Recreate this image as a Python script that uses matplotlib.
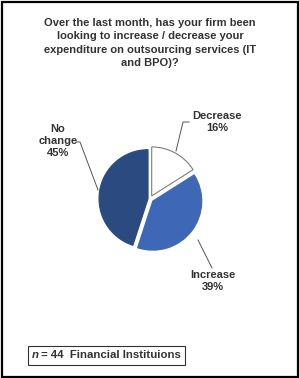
import matplotlib
matplotlib.use("Agg")
import matplotlib.pyplot as plt
from matplotlib.patches import Rectangle

categories = ["Decrease", "Increase", "No change"]
values = [16, 39, 45]
label_texts = ["Decrease\n16%", "Increase\n39%", "No\nchange\n45%"]
title = "Over the last month, has your firm been\nlooking to increase / decrease your\nexpenditure on outsourcing services (IT\nand BPO)?"
footnote = "Financial Instituions"

W, H = 299, 378
fig = plt.figure(figsize=(W / 100, H / 100), dpi=100)
ax = fig.add_axes([0, 0, 1, 1])

font = "Liberation Sans"
tcol = "#333333"
fs = 8.0

colors = ["#ffffff", "#3e67b5", "#2b4a80"]
cx, cy, r = 150, H - 199, 49
wedges, _ = ax.pie(values, startangle=90, counterclock=False, colors=colors,
                   explode=[3.5, 3.5, 2], center=(cx, cy), radius=r,
                   wedgeprops=dict(edgecolor="#7f7f7f", linewidth=0.8),
                   frame=True)
wedges[1].set_edgecolor("#3e67b5")
wedges[2].set_edgecolor("#2b4a80")
ax.set_xlim(0, W)
ax.set_ylim(0, H)
ax.set_aspect("equal")
ax.axis("off")

# outer frame
ax.add_patch(Rectangle((1.5, 1.5), W - 3, H - 3, fill=False, ec="black", lw=1.6))

ax.text(150, H - 43, title, ha="center", va="center", fontsize=fs, fontweight="bold",
        color=tcol, family=font, linespacing=1.45)

# labels
ax.text(217, H - 122, label_texts[0], ha="center", va="center", fontsize=fs,
        fontweight="bold", color=tcol, family=font, linespacing=1.3)
ax.text(213, H - 281, label_texts[1], ha="center", va="center", fontsize=fs,
        fontweight="bold", color=tcol, family=font, linespacing=1.3)
ax.text(58, H - 141, label_texts[2], ha="center", va="center", fontsize=fs,
        fontweight="bold", color=tcol, family=font, linespacing=1.3)

# leader lines
lc = "#555555"
ax.plot([189, 183, 176], [H - 122, H - 122, H - 151], color=lc, lw=0.7)
ax.plot([76, 80, 98], [H - 142, H - 142, H - 190], color=lc, lw=0.7)
ax.plot([198, 212], [H - 240, H - 268], color=lc, lw=0.7)

# footnote box
ax.add_patch(Rectangle((27.5, H - 364.5), 157, 19, fill=False, ec="#333333", lw=0.8))
ax.text(32, H - 355, "n", fontsize=8.2, fontweight="bold", style="italic",
        color=tcol, family=font, va="center", ha="left")
ax.text(41, H - 355, "= 44  " + footnote, fontsize=8.2, fontweight="bold",
        color=tcol, family=font, va="center", ha="left")

fig.savefig("out.png", dpi=100)
